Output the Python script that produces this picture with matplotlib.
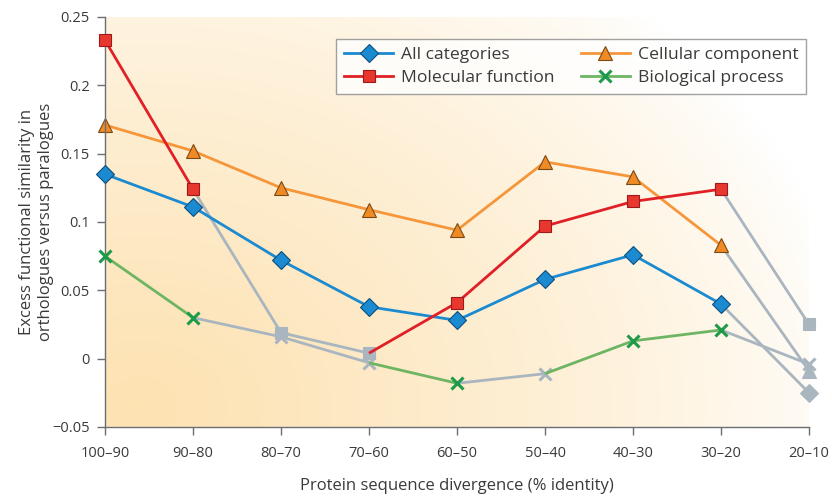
import numpy as np
import matplotlib
matplotlib.use("Agg")
import matplotlib.pyplot as plt
from matplotlib.lines import Line2D

plt.rcParams['font.family'] = ['Open Sans', 'DejaVu Sans']

categories = ["100–90", "90–80", "80–70", "70–60", "60–50", "50–40", "40–30", "30–20", "20–10"]

all_cat = [0.135, 0.111, 0.072, 0.038, 0.028, 0.058, 0.076, 0.040, -0.025]
mol_fun = [0.233, 0.124, 0.019, 0.004, 0.041, 0.097, 0.115, 0.124, 0.025]
cell_comp = [0.171, 0.152, 0.125, 0.109, 0.094, 0.144, 0.133, 0.083, -0.009]
bio_proc = [0.075, 0.030, 0.016, -0.003, -0.018, -0.011, 0.013, 0.021, -0.004]

# significance of each point (False = grey)
all_sig = [1, 1, 1, 1, 1, 1, 1, 1, 0]
mol_sig = [1, 1, 0, 0, 1, 1, 1, 1, 0]
cell_sig = [1, 1, 1, 1, 1, 1, 1, 1, 0]
bio_sig = [1, 1, 0, 0, 1, 0, 1, 1, 0]
# colour of each segment (True = coloured, False = grey)
all_seg = [1, 1, 1, 1, 1, 1, 1, 0]
mol_seg = [1, 0, 0, 1, 1, 1, 1, 0]
cell_seg = [1, 1, 1, 1, 1, 1, 1, 0]
bio_seg = [1, 0, 0, 1, 0, 1, 1, 0]

GREY = "#a9b5bf"

fig = plt.figure(figsize=(8.32, 4.96), dpi=100)
ax = fig.add_axes([105/832, 1-427/496, 704/832, 410/496])

# background gradient
nx, ny = 400, 250
u = np.linspace(0, 1, nx)[None, :]
v = np.linspace(0, 1, ny)[:, None]
t = np.sqrt(((u - 0.05) / 1.0) ** 2 + ((v - 0.05) / 1.35) ** 2)
a = np.clip(1 - t, 0, 1) ** 0.75
base = np.array([253, 226, 178]) / 255.0
img = np.ones((ny, nx, 3)) * (1 - a[..., None]) + base[None, None, :] * a[..., None]
ax.imshow(img, extent=[0, 8.15, -0.05, 0.25], origin="lower", aspect="auto", zorder=0, interpolation="bicubic")
ax.set_xlim(0, 8)
ax.set_ylim(-0.05, 0.25)

x = np.arange(len(categories))

series = [
    (all_cat, all_sig, all_seg, "#1b8ad0", "#1b8ad0", "D", 9, "#0d4f7d", "All categories", 3),
    (mol_fun, mol_sig, mol_seg, "#e01f26", "#e8372e", "s", 8, "#9e1a1a", "Molecular function", 4),
    (cell_comp, cell_sig, cell_seg, "#f6963a", "#f08a24", "^", 10, "#7a4a15", "Cellular component", 2),
    (bio_proc, bio_sig, bio_seg, "#6db563", "#1f9a4a", "x", 9, "#1f9a4a", "Biological process", 3),
]

for vals, sig, seg, lc, mc, mk, ms, ec, lab, z in series:
    for i in range(len(vals) - 1):
        col = lc if seg[i] else GREY
        zz = z if seg[i] else 1.5
        ax.plot(x[i:i+2], vals[i:i+2], color=col, lw=2, zorder=zz, solid_capstyle="butt")
    for i in range(len(vals)):
        if sig[i]:
            if mk == "x":
                ax.plot(x[i], vals[i], marker=mk, ms=ms, mew=2.2, color=mc, zorder=z + 0.5, clip_on=False, ls="none")
            else:
                ax.plot(x[i], vals[i], marker=mk, ms=ms, mfc=mc, mec=ec, mew=0.8, zorder=z + 0.5, clip_on=False, ls="none")
        else:
            if mk == "x":
                ax.plot(x[i], vals[i], marker=mk, ms=ms, mew=2.2, color=GREY, zorder=2, clip_on=False, ls="none")
            else:
                ax.plot(x[i], vals[i], marker=mk, ms=ms, mfc=GREY, mec=GREY, mew=0.8, zorder=2, clip_on=False, ls="none")

ax.set_xticks(x)
ax.set_xticklabels(categories)
yt = [-0.05, 0, 0.05, 0.1, 0.15, 0.2, 0.25]
ax.set_yticks(yt)
ax.set_yticklabels(["−0.05", "0", "0.05", "0.1", "0.15", "0.2", "0.25"])
for s in ["top", "right"]:
    ax.spines[s].set_visible(False)
for s in ["left", "bottom"]:
    ax.spines[s].set_color("#6d6e71")
    ax.spines[s].set_linewidth(1.0)
ax.tick_params(direction="out", length=6, width=1, color="#6d6e71", labelsize=10.5, labelcolor="#3a3a3a")
ax.tick_params(axis="x", pad=8)
ax.tick_params(axis="y", pad=5)

ax.set_xlabel("Protein sequence divergence (% identity)", fontsize=12, color="#3a3a3a", labelpad=12)
ax.set_ylabel("Excess functional similarity in\northologues versus paralogues", fontsize=12, color="#3a3a3a", linespacing=1.25)
ax.yaxis.set_label_coords(-0.072, 0.5)

handles = [
    Line2D([0], [0], color="#1b8ad0", lw=2, marker="D", ms=9, mfc="#1b8ad0", mec="#0d4f7d", mew=0.8),
    Line2D([0], [0], color="#e01f26", lw=2, marker="s", ms=8, mfc="#e8372e", mec="#9e1a1a", mew=0.8),
    Line2D([0], [0], color="#f6963a", lw=2, marker="^", ms=10, mfc="#f08a24", mec="#7a4a15", mew=0.8),
    Line2D([0], [0], color="#6db563", lw=2, marker="x", ms=9, mew=2.2, mec="#1f9a4a"),
]
labels = ["All categories", "Molecular function", "Cellular component", "Biological process"]
leg = ax.legend(handles, labels, ncol=2, loc="upper right", bbox_to_anchor=((806-105)/704, (427-39)/410),
                borderaxespad=0, fontsize=12.6, frameon=True, fancybox=False, edgecolor="#8a8a8a",
                handlelength=2.8, handletextpad=0.45, columnspacing=1.5, borderpad=0.45, labelspacing=0.4)
leg.get_frame().set_linewidth(1.0)
leg.get_frame().set_facecolor("white")
for t_ in leg.get_texts():
    t_.set_color("#3a3a3a")

fig.savefig("out.png", dpi=100)
